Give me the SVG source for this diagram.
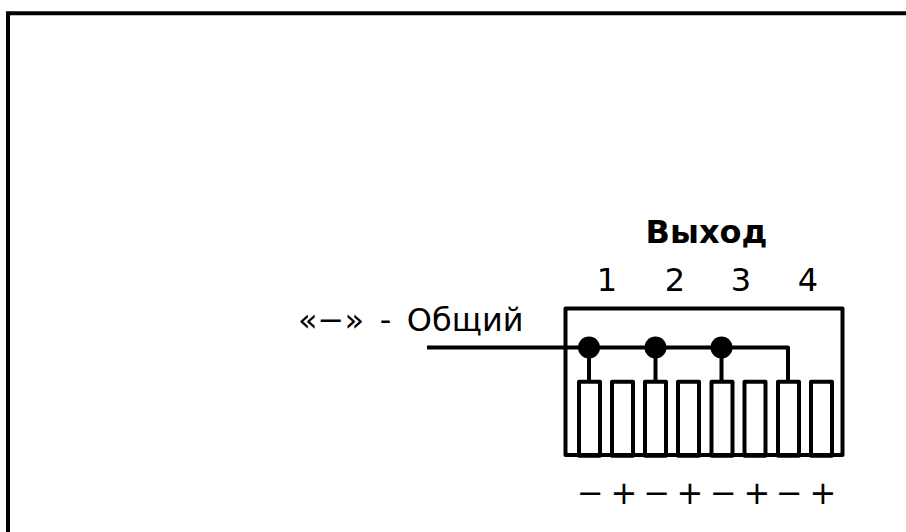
<svg xmlns="http://www.w3.org/2000/svg" width="906" height="532" viewBox="0 0 906 532">
<style>
.l{fill:none;stroke:#000;stroke-width:4;stroke-linejoin:round}
.t{font-family:"DejaVu Sans",Verdana,sans-serif;font-size:32px;fill:#000}
.b{font-weight:bold}
.m{text-anchor:middle}
</style>
<rect width="906" height="532" fill="#fff"/>
<g id="frame"><path d="M8 534V13.300H908" fill="none" stroke="#000" stroke-width="4"/></g>
<g id="block">
<rect class="l" x="565.500" y="308.500" width="277" height="146.500"/>
<rect class="l" x="579" y="381.700" width="21" height="74"/>
<rect class="l" x="612" y="381.700" width="21" height="74"/>
<rect class="l" x="645" y="381.700" width="21" height="74"/>
<rect class="l" x="678" y="381.700" width="21" height="74"/>
<rect class="l" x="711.500" y="381.700" width="21" height="74"/>
<rect class="l" x="744.500" y="381.700" width="21" height="74"/>
<rect class="l" x="778" y="381.700" width="21" height="74"/>
<rect class="l" x="811" y="381.700" width="21" height="74"/>
</g>
<g id="connectors">
<path class="l" d="M427 347.500H788V381"/>
<path class="l" d="M589 347.500V381M655.500 347.500V381M721.500 347.500V381"/>
<circle cx="589" cy="347.500" r="11"/>
<circle cx="655.500" cy="347.500" r="11"/>
<circle cx="721.500" cy="347.500" r="11"/>
</g>
<g id="labels">
<text class="t b m" x="706.500" y="243">Выход</text>
<text class="t m" x="607" y="291">1</text>
<text class="t m" x="675" y="291">2</text>
<text class="t m" x="741" y="291">3</text>
<text class="t m" x="808" y="291">4</text>
<text class="t" x="298" y="331" word-spacing="5.500">«−» - Общий</text>
<text class="t m" x="590.500" y="504">−</text>
<text class="t m" x="624" y="504">+</text>
<text class="t m" x="657" y="504">−</text>
<text class="t m" x="690" y="504">+</text>
<text class="t m" x="723.500" y="504">−</text>
<text class="t m" x="757" y="504">+</text>
<text class="t m" x="789.500" y="504">−</text>
<text class="t m" x="823" y="504">+</text>
</g>
</svg>
